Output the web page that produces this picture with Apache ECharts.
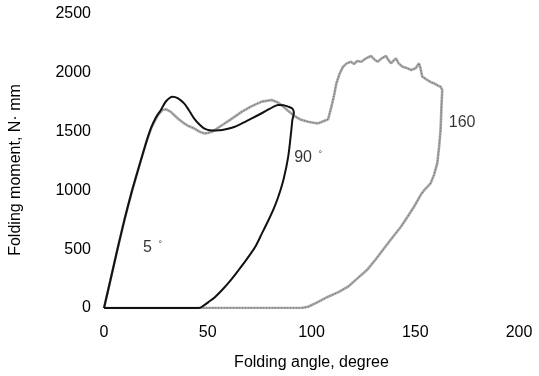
<!DOCTYPE html>
<html><head><meta charset="utf-8">
<script src="https://cdn.jsdelivr.net/npm/echarts@6/dist/echarts.min.js"></script>
<style>html,body{margin:0;padding:0;background:#fff}#c{width:539px;height:376px}</style>
</head><body><div id="c"></div>
<script>
const xTicks = [0, 50, 100, 150, 200];
const yTicks = [0, 500, 1000, 1500, 2000, 2500];

// curve ending at ~90 deg (black)
const blackX = [0,3,6.4,10,13.6,17.1,20.7,22.6,25,27.4,30,33,35.5,38.6,41,43.4,46,48.2,51,54,57,62,66.5,71,76,80,84,86.5,88.8,90.8,91.5,90.8,90.2,88.8,86.6,84,81.7,79.3,76,72.9,69,64.9,61,56.9,53.3,50.3,48,45.8,0];
const blackY = [0,230,493,760,1003,1216,1429,1528,1620,1684,1760,1797,1785,1740,1680,1613,1560,1528,1512,1510,1514,1535,1570,1610,1656,1695,1726,1725,1712,1695,1660,1600,1500,1290,1100,946,840,748,630,521,420,323,235,153,90,50,20,0,0];

// curve ending at ~160 deg (grey)
const greyX = [0,3,6.4,10,13.6,17.1,20.7,23,26,28.2,30,32,33.8,36,38.6,41,43.4,46,48.2,50,52.2,57,62,66.5,71,76,80.9,83.5,85.6,88.5,92,95,98.4,101,103.2,106,108,109.6,111,112,113.5,115.2,117,119,120.5,122,124,126,128.7,130.5,131.9,134,135.9,137,138.3,140.7,142,143.9,146,148,150.2,151.8,152.5,153.4,155.8,157.5,159,161,162.2,163,162.6,162.2,161.5,160.6,159,157.4,154.2,152.6,149.4,146.3,143.1,139,135.1,131,127.1,122,117.6,113,108,103,98.4,95.2,0];
const greyY = [0,230,493,760,1003,1216,1429,1540,1640,1684,1690,1670,1641,1605,1570,1545,1528,1500,1485,1488,1500,1556,1615,1670,1715,1755,1769,1750,1726,1680,1630,1600,1584,1575,1570,1590,1604,1712,1820,1911,1990,2052,2080,2094,2075,2100,2094,2120,2143,2110,2094,2125,2143,2110,2081,2123,2080,2052,2040,2024,2038,2081,2040,1967,1939,1920,1911,1890,1882,1854,1700,1514,1372,1230,1130,1060,1000,960,861,776,691,600,510,415,330,250,181,135,96,50,11,0,0];

const annoText = ['5', '90', '160'];
const annoDeg = ['°', '°', ''];
const annoX = [23.4, 98.4, 172.6];
const annoY = [510, 1275, 1576];

const zip = (xs, ys) => xs.map((x, i) => [x, ys[i]]);
const font = 'Liberation Sans, Arial, sans-serif';

const chart = echarts.init(document.getElementById('c'));
chart.setOption({
  animation: false,
  backgroundColor: '#fff',
  grid: {left: 101, right: 20, top: 14, bottom: 68},
  xAxis: {
    type: 'value', min: 0, max: 200, interval: 50,
    name: 'Folding angle, degree', nameLocation: 'middle', nameGap: 47,
    nameTextStyle: {color: '#000', fontSize: 16, fontFamily: font},
    axisLine: {show: false}, axisTick: {show: false}, splitLine: {show: false},
    axisLabel: {color: '#000', fontSize: 16, fontFamily: font, margin: 17,
      formatter: v => xTicks.includes(v) ? String(v) : ''}
  },
  yAxis: {
    type: 'value', min: 0, max: 2500, interval: 500,
    name: 'Folding moment, N· mm', nameLocation: 'middle', nameGap: 80,
    nameTextStyle: {color: '#000', fontSize: 16, fontFamily: font, padding: [0, 0, 0, -18]},
    axisLine: {show: false}, axisTick: {show: false}, splitLine: {show: false},
    axisLabel: {color: '#000', fontSize: 16, fontFamily: font, margin: 13,
      formatter: v => yTicks.includes(v) ? String(v) : ''}
  },
  series: [
    {type: 'line', data: zip(greyX, greyY), showSymbol: false,
     lineStyle: {color: '#a8a8a8', width: 2.6}, z: 2},
    {type: 'line', data: zip(greyX, greyY), showSymbol: false,
     lineStyle: {color: '#555', width: 0.8, type: [1, 2]}, z: 3},
    {type: 'line', data: zip(blackX, blackY), showSymbol: false, smooth: 0.3,
     lineStyle: {color: '#111', width: 2}, z: 4},
    {type: 'scatter', symbolSize: 0, z: 5,
     data: annoX.map((x, i) => ({value: [x, annoY[i]],
       label: {show: true, position: 'inside',
         formatter: '{a|' + annoText[i] + '}' + (annoDeg[i] ? '  {b|' + annoDeg[i] + '}' : ''),
         rich: {a: {fontSize: 16, color: '#000', fontFamily: font},
                b: {fontSize: 9, color: '#000', fontFamily: font, verticalAlign: 'top', padding: [0, 0, 8, 0]}}}}))}
  ]
});
</script></body></html>
